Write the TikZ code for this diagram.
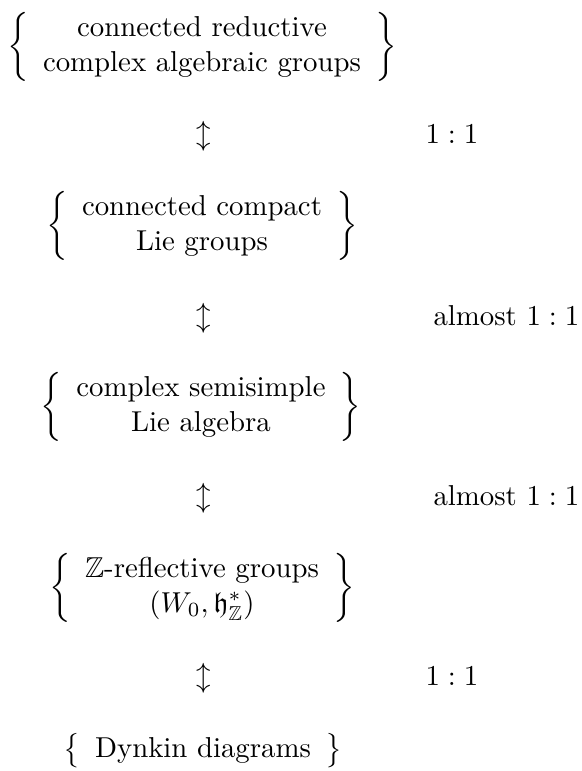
\documentclass[tikz,border=0pt]{standalone}
\usepackage{amssymb}
\tikzset{
  setbox/.style={inner sep=0pt, anchor=center},
  arrowglyph/.style={inner sep=0pt, anchor=base},
  corr/.style={inner sep=0pt, anchor=base west}
}
\begin{document}
\begin{tikzpicture}[x=0.3472pt, y=-0.3472pt]
\useasboundingbox (0,0) rectangle (582,771);
\node[setbox] (g1) at (202,47) {$\left\{\begin{array}{c}\mbox{connected reductive}\\ \mbox{complex algebraic groups}\end{array}\right\}$};
\node[setbox] (g2) at (202,226) {$\left\{\begin{array}{c}\mbox{connected compact}\\ \mbox{Lie groups}\end{array}\right\}$};
\node[setbox] (g3) at (201,407) {$\left\{\begin{array}{c}\mbox{complex semisimple}\\ \mbox{Lie algebra}\end{array}\right\}$};
\node[setbox] (g4) at (202,588) {$\left\{\begin{array}{c}\mbox{$\mathbb{Z}$-reflective groups}\\ (W_0,\mathfrak{h}^*_{\mathbb{Z}})\end{array}\right\}$};
\node[setbox] (g5) at (203,751) {$\left\{\begin{array}{c}\mbox{Dynkin diagrams}\end{array}\right\}$};
\node[arrowglyph] (a1) at (204,143) {$\updownarrow$};
\node[arrowglyph] (a2) at (204,325) {$\updownarrow$};
\node[arrowglyph] (a3) at (204,505) {$\updownarrow$};
\node[arrowglyph] (a4) at (204,685) {$\updownarrow$};
\node[corr] (l1) at (425,143) {$1:1$};
\node[corr] (l2) at (433,325) {almost $1:1$};
\node[corr] (l3) at (433,505) {almost $1:1$};
\node[corr] (l4) at (425,685) {$1:1$};
\end{tikzpicture}
\end{document}
